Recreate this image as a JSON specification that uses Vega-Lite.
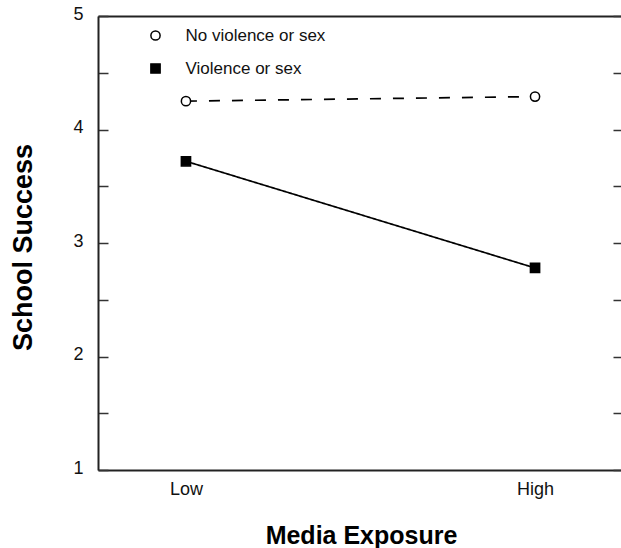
{
  "$schema": "https://vega.github.io/schema/vega-lite/v6.json",
  "width": 525,
  "height": 454,
  "autosize": {"type": "none"},
  "padding": {"left": 98, "top": 16, "right": 0, "bottom": 78},
  "background": "white",
  "config": {
    "view": {"stroke": null},
    "font": "Liberation Sans",
    "axis": {"labelFont": "Liberation Sans", "titleFont": "Liberation Sans", "grid": false},
    "legend": {"labelFont": "Liberation Sans"}
  },
  "data": {
    "values": [
      {"exposure": "Low", "group": "No violence or sex", "success": 4.25},
      {"exposure": "High", "group": "No violence or sex", "success": 4.29},
      {"exposure": "Low", "group": "Violence or sex", "success": 3.72},
      {"exposure": "High", "group": "Violence or sex", "success": 2.78}
    ]
  },
  "resolve": {"axis": {"x": "independent", "y": "independent"}},
  "layer": [
    {
      "mark": {"type": "line", "color": "black", "strokeWidth": 1.7},
      "encoding": {
        "x": {
          "field": "exposure", "type": "ordinal",
          "scale": {"type": "point", "domain": ["Low", "High"], "padding": 0.252},
          "axis": {
            "orient": "bottom", "title": "Media Exposure", "ticks": false, "labelAngle": 0,
            "labelFontSize": 18, "labelColor": "#111", "labelPadding": 10,
            "domainColor": "#222", "domainWidth": 2,
            "titleFontSize": 25, "titleFontWeight": "bold", "titleColor": "black",
            "titleX": 263, "titleY": 73, "titleBaseline": "alphabetic", "titleAlign": "center"
          }
        },
        "y": {
          "field": "success", "type": "quantitative",
          "scale": {"domain": [1, 5], "nice": false, "zero": false},
          "axis": {
            "orient": "left", "title": "School Success",
            "values": [1, 1.5, 2, 2.5, 3, 3.5, 4, 4.5, 5],
            "labelExpr": "datum.value % 1 == 0 ? format(datum.value, 'd') : ''",
            "ticks": true, "tickSize": -10, "tickColor": "#333", "tickWidth": 1.5,
            "labelFontSize": 18, "labelColor": "#111", "labelPadding": 25, "labelBaseline": "middle", "labelOffset": -2,
            "domainColor": "#222", "domainWidth": 2,
            "titleFontSize": 27, "titleFontWeight": "bold", "titleColor": "black",
            "titleX": -67, "titleY": 231, "titleAngle": -90, "titleBaseline": "alphabetic", "titleAlign": "center"
          }
        },
        "strokeDash": {
          "field": "group", "type": "nominal",
          "scale": {"domain": ["Violence or sex", "No violence or sex"], "range": [[1, 0], [11, 12]]},
          "legend": null
        }
      }
    },
    {
      "mark": {"type": "point", "filled": true, "stroke": "black", "strokeWidth": 1.5, "opacity": 1, "size": 85},
      "encoding": {
        "x": {
          "field": "exposure", "type": "ordinal",
          "scale": {"type": "point", "domain": ["Low", "High"], "padding": 0.252},
          "axis": {"orient": "top", "title": null, "labels": false, "ticks": false, "domainColor": "#222", "domainWidth": 2}
        },
        "y": {
          "field": "success", "type": "quantitative",
          "scale": {"domain": [1, 5], "nice": false, "zero": false},
          "axis": {
            "orient": "right", "title": null, "labels": false, "domain": false,
            "values": [1, 1.5, 2, 2.5, 3, 3.5, 4, 4.5, 5],
            "tickSize": -10, "tickColor": "#333", "tickWidth": 1.5
          }
        },
        "shape": {
          "field": "group", "type": "nominal",
          "scale": {"domain": ["No violence or sex", "Violence or sex"], "range": ["circle", "square"]},
          "legend": {
            "orient": "none", "legendX": 49, "legendY": 11, "title": null,
            "symbolSize": 85, "labelFontSize": 17, "labelColor": "#111", "labelOffset": 21.5,
            "rowPadding": 15, "padding": 0
          }
        },
        "fill": {
          "field": "group", "type": "nominal",
          "scale": {"domain": ["No violence or sex", "Violence or sex"], "range": ["white", "black"]},
          "legend": {
            "orient": "none", "legendX": 49, "legendY": 11, "title": null,
            "symbolSize": 85, "labelFontSize": 17, "labelColor": "#111", "labelOffset": 21.5,
            "rowPadding": 15, "padding": 0
          }
        }
      }
    }
  ]
}
